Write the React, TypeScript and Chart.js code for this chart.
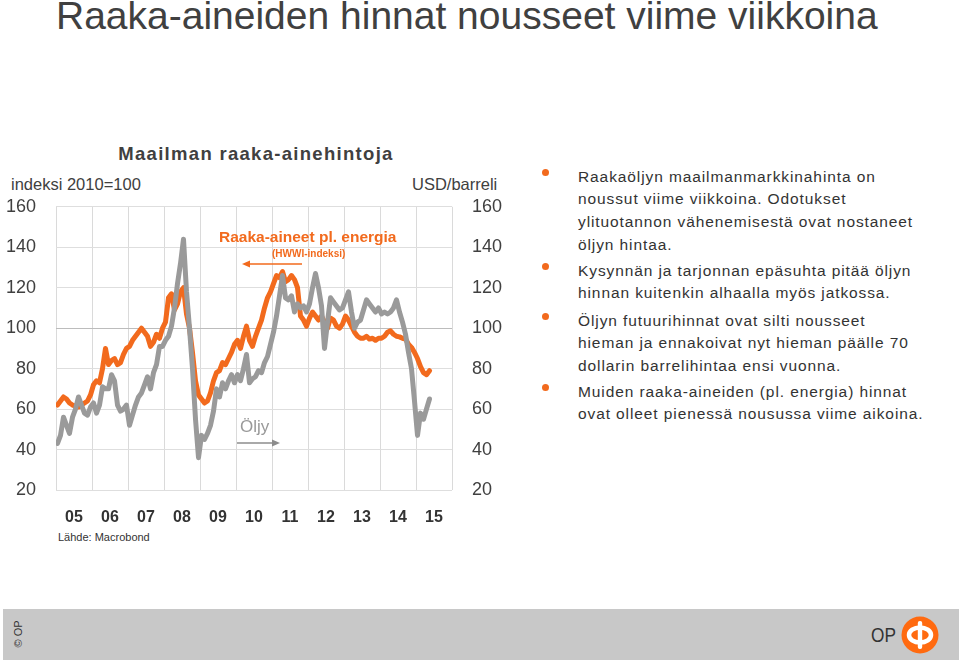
import React, { useEffect, useRef } from 'react';
import { Chart, registerables } from 'chart.js';

Chart.register(...registerables);

// ---- data ----
const START_YEAR = 2005;
const END_YEAR = 2016;
const yearLabels = ['05', '06', '07', '08', '09', '10', '11', '12', '13', '14', '15'];
const yTickValues = [20, 40, 60, 80, 100, 120, 140, 160];

// Raaka-aineet pl. energia (HWWI-indeksi, 2010=100), monthly from Jan 2005
const commodities = [
  62, 64, 66, 65, 63, 62, 61.5, 61, 62, 63, 64, 67,
  72, 74, 73, 80, 90, 82, 84, 85, 82, 83, 87, 90,
  91, 94, 96, 98, 100, 98, 96, 91, 93, 97, 95, 100,
  103, 115, 117, 109, 112, 118, 120, 107, 100, 88, 74, 67,
  65, 63, 64, 68, 74, 78, 79, 83, 82, 85, 88, 92,
  94, 90, 96, 101, 94, 91, 96, 100, 104, 110, 115, 118,
  122, 126, 125, 128, 123, 124, 126, 124, 120, 106, 104, 101,
  105, 108, 106, 104, 106, 103, 100, 105, 104, 101, 100, 102,
  106, 104, 101, 98, 96, 95, 95, 96, 94.6, 95, 94, 95,
  95, 96, 98, 98.7, 97, 96, 95.7, 95, 94.6, 92, 90.5, 88,
  85, 81, 78, 77, 79,
];

// Öljy (USD/barreli), monthly from Jan 2005
const oil = [
  43, 47, 56, 52, 48, 56, 60, 66, 62, 58, 57, 61,
  63, 58, 62, 71, 70, 70, 77, 74, 62, 59, 60, 62,
  52, 57, 62, 66, 68, 72, 76, 70, 78, 82, 91, 91,
  94, 96, 101, 110, 122, 132, 144, 118, 100, 80, 55, 36,
  47, 45, 48, 52, 59, 70, 66, 73, 70, 74, 77, 73,
  77, 74, 80, 87, 73, 75, 76, 79, 78, 83, 86, 92,
  98, 106, 116, 126, 115, 114, 116, 108, 112, 110, 111, 108,
  112, 120, 127, 120, 111, 90, 103, 115, 113, 111, 109, 110,
  114, 118, 108, 100, 103, 104, 109, 114, 112, 110, 108, 110,
  107, 108, 107, 108, 110, 114, 108, 103, 97, 88, 80, 64,
  47, 58, 55, 60, 65,
];

const ORANGE = '#f26a1d';
const GREY = '#9a9a9a';
const TEXT = '#404040';
const FONT = '"Liberation Sans", Arial, sans-serif';

function toPoints(values: number[]) {
  return values.map((v, i) => ({ x: START_YEAR + (i + 0.5) / 12, y: v }));
}

function ChartCanvas() {
  const ref = useRef<HTMLCanvasElement | null>(null);
  useEffect(() => {
    if (!ref.current) return;
    const tickFont = { family: FONT, size: 18 };
    const chart = new Chart(ref.current, {
      type: 'line',
      data: {
        datasets: [
          {
            label: 'Öljy',
            data: toPoints(oil),
            borderColor: GREY,
            borderWidth: 5,
            pointRadius: 0,
            yAxisID: 'y',
          },
          {
            label: 'Raaka-aineet pl. energia',
            data: toPoints(commodities),
            borderColor: ORANGE,
            borderWidth: 5,
            pointRadius: 0,
            yAxisID: 'y',
          },
        ],
      },
      options: {
        animation: false,
        responsive: false,
        maintainAspectRatio: false,
        devicePixelRatio: 1,
        layout: { padding: { top: 0, left: 0, right: 0, bottom: 0 } },
        plugins: { legend: { display: false }, tooltip: { enabled: false }, title: { display: false } },
        elements: { line: { tension: 0, borderJoinStyle: 'round', borderCapStyle: 'round' } },
        scales: {
          x: {
            type: 'linear',
            min: START_YEAR,
            max: END_YEAR,
            position: 'bottom',
            ticks: {
              stepSize: 0.5,
              autoSkip: false,
              maxRotation: 0,
              padding: 18,
              color: '#333333',
              font: { family: FONT, size: 16, weight: 'bold' },
              callback: (value: any) => {
                const v = Number(value);
                const frac = v - Math.floor(v);
                if (Math.abs(frac - 0.5) < 1e-6) {
                  return yearLabels[Math.floor(v) - START_YEAR] ?? '';
                }
                return '';
              },
            },
            grid: {
              drawTicks: false,
              lineWidth: 1,
              color: (ctx: any) => {
                const v = ctx.tick ? ctx.tick.value : 0;
                return Math.abs(v - Math.round(v)) < 1e-6 ? '#dadada' : 'rgba(0,0,0,0)';
              },
            },
            border: { display: false },
            afterFit: (s: any) => {
              s.height = 40;
            },
          },
          y: {
            position: 'left',
            min: 20,
            max: 160,
            afterBuildTicks: (s: any) => {
              s.ticks = yTickValues.map((v) => ({ value: v }));
            },
            ticks: { padding: 20, color: TEXT, font: tickFont },
            grid: {
              drawTicks: false,
              lineWidth: 1,
              color: (ctx: any) => (ctx.tick && ctx.tick.value === 100 ? '#bcbcbc' : '#dedede'),
            },
            border: { display: false },
            afterFit: (s: any) => {
              s.width = 56;
            },
          },
          y2: {
            position: 'right',
            min: 20,
            max: 160,
            afterBuildTicks: (s: any) => {
              s.ticks = yTickValues.map((v) => ({ value: v }));
            },
            ticks: { padding: 20, color: TEXT, font: tickFont },
            grid: { display: false, drawTicks: false },
            border: { display: false },
            afterFit: (s: any) => {
              s.width = 58;
            },
          },
        },
      },
    } as any);
    return () => chart.destroy();
  }, []);
  return (
    <canvas
      ref={ref}
      width={510}
      height={354}
      style={{ position: 'absolute', left: 0, top: 176, width: 510, height: 354 }}
    />
  );
}

const bullets: string[][] = [
  [
    'Raakaöljyn maailmanmarkkinahinta on',
    'noussut viime viikkoina. Odotukset',
    'ylituotannon vähenemisestä ovat nostaneet',
    'öljyn hintaa.',
  ],
  ['Kysynnän ja tarjonnan epäsuhta pitää öljyn', 'hinnan kuitenkin alhaalla myös jatkossa.'],
  [
    'Öljyn futuurihinnat ovat silti nousseet',
    'hieman ja ennakoivat nyt hieman päälle 70',
    'dollarin barrelihintaa ensi vuonna.',
  ],
  ['Muiden raaka-aineiden (pl. energia) hinnat', 'ovat olleet pienessä nousussa viime aikoina.'],
];
const bulletTops = [165.5, 259.5, 309.5, 380.5];

export default function App() {
  useEffect(() => {
    document.body.style.margin = '0';
  }, []);
  const abs = (o: React.CSSProperties): React.CSSProperties => ({ position: 'absolute', ...o });
  return (
    <div
      style={{
        position: 'relative',
        width: 959,
        height: 662,
        overflow: 'hidden',
        background: '#ffffff',
        fontFamily: FONT,
        color: TEXT,
      }}
    >
      <div style={abs({ left: 56, top: -7, fontSize: 39, whiteSpace: 'nowrap', color: TEXT, lineHeight: '46px' })}>
        Raaka-aineiden hinnat nousseet viime viikkoina
      </div>

      <div style={abs({ left: 0, width: 512, top: 143, textAlign: 'center', fontSize: 18.5, fontWeight: 'bold', letterSpacing: 1.3, lineHeight: '22px', whiteSpace: 'nowrap' })}>
        Maailman raaka-ainehintoja
      </div>
      <div style={abs({ left: 11, top: 174, fontSize: 16.5, lineHeight: '20px', whiteSpace: 'nowrap' })}>indeksi 2010=100</div>
      <div style={abs({ left: 412, top: 174, fontSize: 16.5, lineHeight: '20px', whiteSpace: 'nowrap' })}>USD/barreli</div>

      <ChartCanvas />

      <div style={abs({ left: 219, top: 227, fontSize: 15.5, fontWeight: 'bold', color: ORANGE, lineHeight: '20px', whiteSpace: 'nowrap' })}>
        Raaka-aineet pl. energia
      </div>
      <div style={abs({ left: 272, top: 248, fontSize: 10, fontWeight: 'bold', color: ORANGE, lineHeight: '12px', whiteSpace: 'nowrap' })}>
        (HWWI-indeksi)
      </div>
      <svg style={abs({ left: 236, top: 258, overflow: 'visible' })} width={70} height={12}>
        <line x1={10} y1={6} x2={66} y2={6} stroke={ORANGE} strokeWidth={1.5} />
        <polygon points="6,6 14,2.5 14,9.5" fill={ORANGE} />
      </svg>
      <div style={abs({ left: 240, top: 417, fontSize: 17, color: '#999999', lineHeight: '20px', whiteSpace: 'nowrap' })}>Öljy</div>
      <svg style={abs({ left: 234, top: 437, overflow: 'visible' })} width={50} height={12}>
        <line x1={3} y1={6} x2={40} y2={6} stroke="#8c8c8c" strokeWidth={1.5} />
        <polygon points="46,6 38,2.5 38,9.5" fill="#8c8c8c" />
      </svg>

      <div style={abs({ left: 58, top: 530, fontSize: 11, lineHeight: '14px', color: '#333333', whiteSpace: 'nowrap' })}>Lähde: Macrobond</div>

      {bullets.map((lines, i) => (
        <React.Fragment key={i}>
          <div style={abs({ left: 542, top: bulletTops[i] + 3, width: 7, height: 7, borderRadius: '50%', background: ORANGE })} />
          <div style={abs({ left: 578, top: bulletTops[i], fontSize: 15.5, lineHeight: '22.7px', letterSpacing: 0.9, color: '#333333', whiteSpace: 'nowrap' })}>
            {lines.map((l, j) => (
              <div key={j}>{l}</div>
            ))}
          </div>
        </React.Fragment>
      ))}

      <div style={abs({ left: 3, top: 609, width: 956, height: 51, background: '#c8c8c8' })} />
      <div
        style={abs({
          left: 4,
          top: 627,
          fontSize: 11,
          color: '#333333',
          whiteSpace: 'nowrap',
          transform: 'rotate(-90deg)',
          transformOrigin: 'center',
          lineHeight: '14px',
        })}
      >
        © OP
      </div>
      <div style={abs({ left: 871, top: 621, fontSize: 21, color: '#333333', lineHeight: '28px', transform: 'scaleX(0.82)', transformOrigin: 'left' })}>OP</div>
      <svg style={abs({ left: 901, top: 616 })} width={38} height={38}>
        <circle cx={19} cy={19} r={18.5} fill="#ff6a10" />
        <ellipse cx={19} cy={19} rx={11} ry={7.5} fill="none" stroke="#ffffff" strokeWidth={4.5} />
        <rect x={16.8} y={5} width={4.4} height={28} rx={2} fill="#ffffff" />
      </svg>
    </div>
  );
}
